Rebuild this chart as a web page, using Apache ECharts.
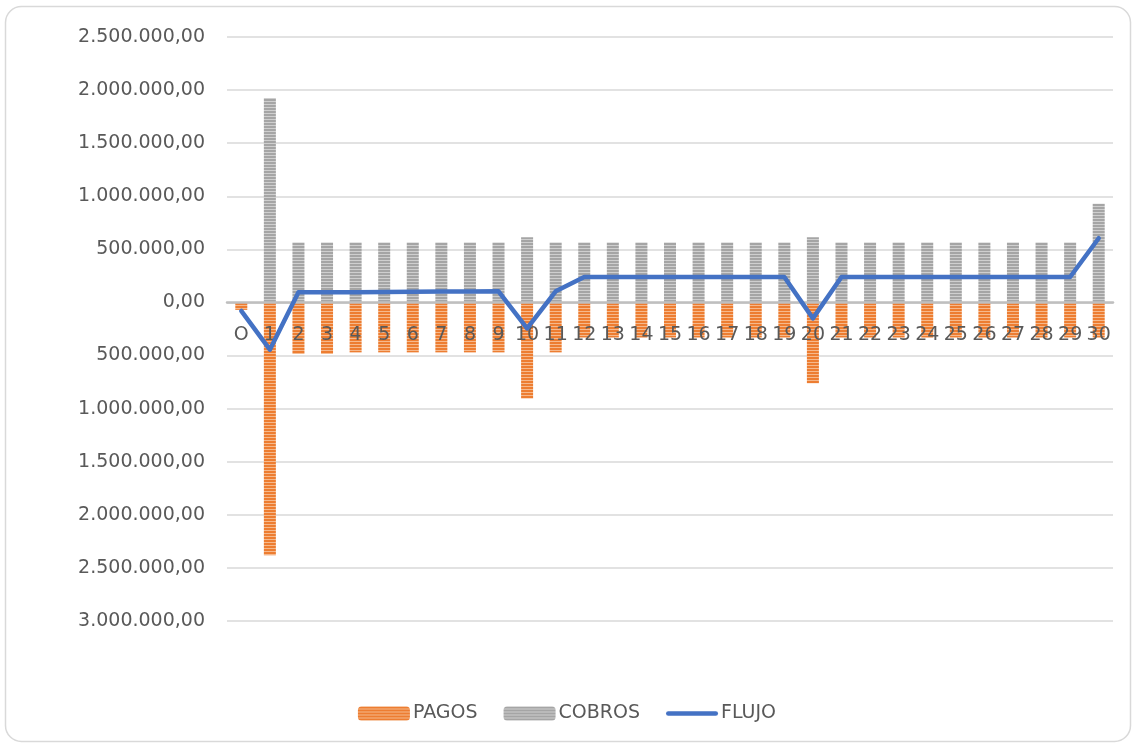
<!DOCTYPE html>
<html>
<head>
<meta charset="utf-8">
<title>Flujo de caja</title>
<script src="https://cdn.jsdelivr.net/npm/echarts@6/dist/echarts.min.js"></script>
<style>
  html, body { margin: 0; padding: 0; background: #ffffff; }
  #chart { width: 1134px; height: 744px; }
</style>
</head>
<body>
<div id="chart"></div>
<script>
// Periodos
const categories = ['O', '1', '2', '3', '4', '5', '6', '7', '8', '9', '10',
  '11', '12', '13', '14', '15', '16', '17', '18', '19', '20',
  '21', '22', '23', '24', '25', '26', '27', '28', '29', '30'];

// Pagos (salidas), en negativo
const pagos = [-70000, -2380000, -485000, -485000, -470000, -470000, -470000, -470000, -470000, -470000,
  -905000, -470000, -330000, -330000, -330000, -330000, -330000, -330000, -330000, -330000,
  -760000, -330000, -330000, -330000, -330000, -330000, -330000, -330000, -330000, -330000, -330000];

// Cobros (entradas)
const cobros = [0, 1925000, 565000, 565000, 565000, 565000, 565000, 565000, 565000, 565000,
  615000, 565000, 565000, 565000, 565000, 565000, 565000, 565000, 565000, 565000,
  615000, 565000, 565000, 565000, 565000, 565000, 565000, 565000, 565000, 565000, 930000];

// Flujo neto
const flujo = [-80000, -445000, 95000, 95000, 97000, 98000, 100000, 102000, 104000, 105000,
  -245000, 105000, 240000, 240000, 240000, 240000, 240000, 240000, 240000, 240000,
  -150000, 240000, 240000, 240000, 240000, 240000, 240000, 240000, 240000, 240000, 605000];

// Eje de valores
const yMin = -3000000;
const yMax = 2500000;
const yStep = 500000;

// Área de trazado
const GRID = { left: 227, right: 21, top: 37, bottom: 123 };
const CHART_H = 744;

// Relleno rayado horizontal para las barras
function stripes(base, light) {
  const c = document.createElement('canvas');
  c.width = 4; c.height = 3;
  const g = c.getContext('2d');
  g.fillStyle = base; g.fillRect(0, 0, 4, 2);
  g.fillStyle = light; g.fillRect(0, 2, 4, 1);
  return { image: c, repeat: 'repeat' };
}

// Formato es-ES sin signo: 2.500.000,00
function fmt(v) {
  const n = Math.abs(Math.round(v));
  const s = String(n).replace(/\B(?=(\d{3})+(?!\d))/g, '.');
  return s + ',00';
}

// Desplazamiento del eje de categorías hasta la línea del cero
const plotH = CHART_H - GRID.top - GRID.bottom;
const zeroFromBottom = plotH * (0 - yMin) / (yMax - yMin);

const FONT = 'DejaVu Sans';
const TXT = '#595959';

const chart = echarts.init(document.getElementById('chart'), null, { renderer: 'canvas' });
chart.setOption({
  backgroundColor: '#ffffff',
  animation: false,
  textStyle: { fontFamily: FONT },
  graphic: [{
    type: 'rect',
    shape: { x: 5.5, y: 6.5, width: 1125, height: 735, r: 16 },
    style: { fill: null, stroke: '#d9d9d9', lineWidth: 1.5 },
    silent: true
  }],
  grid: GRID,
  legend: {
    bottom: 16,
    left: 'center',
    itemWidth: 52,
    itemHeight: 14,
    itemGap: 26,
    textStyle: { fontFamily: FONT, fontSize: 19, color: TXT, padding: [0, 0, 0, -2] },
    data: [
      'PAGOS',
      'COBROS',
      { name: 'FLUJO', icon: 'path://M2.5,0 L54.5,0 A2.5,2.5 0 0 1 54.5,5 L2.5,5 A2.5,2.5 0 0 1 2.5,0 Z' }
    ]
  },
  xAxis: {
    type: 'category',
    data: categories,
    position: 'bottom',
    offset: -zeroFromBottom,
    axisLine: { onZero: false, lineStyle: { color: '#bfbfbf', width: 2.5 } },
    axisTick: { show: false },
    axisLabel: { interval: 0, margin: 23, fontFamily: FONT, fontSize: 19, color: TXT },
    z: 3
  },
  yAxis: {
    type: 'value',
    min: yMin,
    max: yMax,
    interval: yStep,
    axisLine: { show: false },
    axisTick: { show: false },
    splitLine: { lineStyle: { color: '#d9d9d9', width: 1.5 } },
    axisLabel: { margin: 22, fontFamily: FONT, fontSize: 19, color: TXT, formatter: fmt }
  },
  series: [
    {
      name: 'PAGOS',
      type: 'bar',
      data: pagos,
      barWidth: 12,
      barGap: '-100%',
      itemStyle: { color: stripes('#ED7D31', '#F6B98C') }
    },
    {
      name: 'COBROS',
      type: 'bar',
      data: cobros,
      barWidth: 12,
      itemStyle: { color: stripes('#A5A5A5', '#CFCFCF') }
    },
    {
      name: 'FLUJO',
      type: 'line',
      data: flujo,
      symbol: 'none',
      showSymbol: false,
      z: 5,
      itemStyle: { color: '#4472C4' },
      lineStyle: { color: '#4472C4', width: 4.5, cap: 'round', join: 'round' }
    }
  ]
});
</script>
</body>
</html>
